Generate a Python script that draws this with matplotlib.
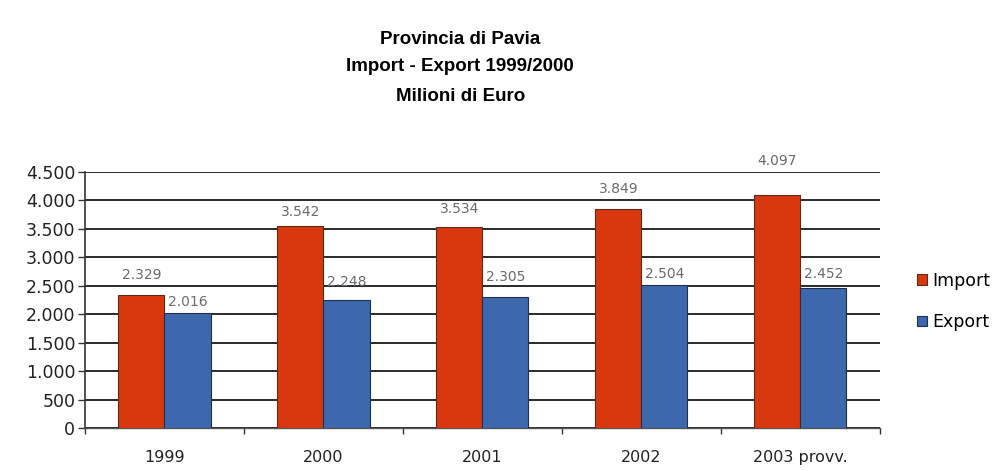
import numpy as np
import matplotlib.pyplot as plt

plt.rcParams['font.family'] = ['DejaVu Sans']

# Dati (milioni di euro)
anni = ['1999', '2000', '2001', '2002', '2003 provv.']
import_vals = [2329, 3542, 3534, 3849, 4097]
export_vals = [2016, 2248, 2305, 2504, 2452]

# spostamento verticale delle etichette (punti sopra la barra)
off_imp = [10, 5, 8, 9, 19]
off_exp = [3, 8, 9, 3, 5]

RED = '#d9380f'
BLUE = '#3d68ad'

fig = plt.figure(figsize=(9.96, 4.70), dpi=100)
ax = fig.add_axes([0.0853, 0.0894, 0.798, 0.545])

x = np.arange(len(anni))
w = 0.29
b1 = ax.bar(x - w / 2, import_vals, w, color=RED, edgecolor='#5a2a1a', linewidth=0.8,
            label='Import', zorder=3)
b2 = ax.bar(x + w / 2, export_vals, w, color=BLUE, edgecolor='#1f2f4f', linewidth=0.8,
            label='Export', zorder=3)

def fmt(v):
    return f'{v:,}'.replace(',', '.')

for i in range(len(anni)):
    ax.annotate(fmt(import_vals[i]), (x[i] - w / 2, import_vals[i]),
                xytext=(0, off_imp[i]), textcoords='offset points',
                ha='center', va='bottom', fontsize=10, color='#6a6a6a')
    ax.annotate(fmt(export_vals[i]), (x[i] + w / 2, export_vals[i]),
                xytext=(0, off_exp[i]), textcoords='offset points',
                ha='center', va='bottom', fontsize=10, color='#6a6a6a')

ax.set_xlim(-0.5, len(anni) - 0.5)
ax.set_ylim(0, 4500)
ax.set_yticks(np.arange(0, 4501, 500))
ax.set_yticklabels([fmt(v) for v in range(0, 4501, 500)])
ax.yaxis.grid(True, color='#2a2a2a', linewidth=1.4, zorder=0)
ax.set_axisbelow(True)

ax.set_xticks(x)
ax.set_xticklabels(anni)
ax.set_xticks(np.arange(-0.5, len(anni)), minor=True)
ax.tick_params(axis='x', which='major', length=0, pad=16, labelsize=11.5, labelcolor='#222222')
ax.tick_params(axis='x', which='minor', length=4, width=1, color='#333333', direction='out')
ax.tick_params(axis='y', length=5, width=1, color='#333333', labelsize=12.5,
               labelcolor='#222222', pad=2)

for s in ['top', 'right']:
    ax.spines[s].set_visible(False)
ax.spines['left'].set_color('#333333')
ax.spines['left'].set_linewidth(1.2)
ax.spines['bottom'].set_color('#555555')
ax.spines['bottom'].set_linewidth(1.0)

title_font = dict(ha='center', va='center', fontsize=13.5, fontweight='bold',
                  family=['Liberation Sans', 'DejaVu Sans'])
fig.text(0.462, 0.917, 'Provincia di Pavia', **title_font)
fig.text(0.462, 0.858, 'Import - Export 1999/2000', **title_font)
fig.text(0.462, 0.795, 'Milioni di Euro', **title_font)

fig.legend(handles=[b1, b2], labels=['Import', 'Export'], loc='center left',
           bbox_to_anchor=(0.905, 0.359), frameon=False, fontsize=12.5,
           handlelength=0.55, handleheight=0.55, handletextpad=0.3, labelspacing=1.35)

fig.savefig('out.png', dpi=100)
